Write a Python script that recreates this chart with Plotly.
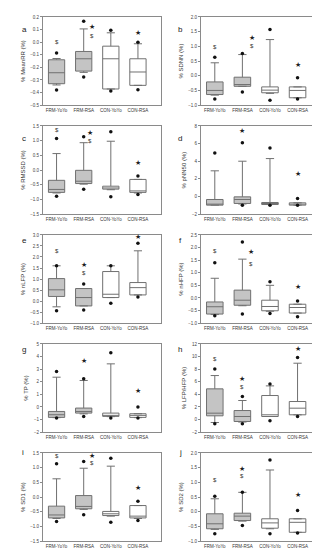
import plotly.graph_objects as go

categories = ["FRM-YoYo", "FRM-RSA", "CON-YoYo", "CON-RSA"]
panel_letters = ["a", "b", "c", "d", "e", "f", "g", "h", "i", "j"]
y_titles = ["% MeanRR (%)", "% SDNN (%)", "% RMSSD (%)", "% pNN50 (%)", "% nLFP (%)",
            "% nHFP (%)", "% TP (%)", "% LFP/HFP (%)", "% SD1 (%)", "% SD2 (%)"]
y_min = [-0.5, -1.0, -1.5, -2, -1.0, -1.0, -2, -2, -1.5, -1.0]
y_max = [0.2, 2.0, 1.5, 8, 3.0, 2.5, 5, 12, 1.5, 2.0]
y_step = [0.1, 0.5, 0.5, 2, 0.5, 0.5, 1, 2, 0.5, 0.5]

# a MeanRR
meanrr_lower = [-0.34, -0.24, -0.372, -0.343]
meanrr_q1 = [-0.33, -0.23, -0.372, -0.343]
meanrr_median = [-0.243, -0.132, -0.132, -0.237]
meanrr_q3 = [-0.14, -0.074, -0.032, -0.132]
meanrr_upper = [-0.13, 0.105, 0.074, -0.013]
meanrr_p5 = [-0.38, -0.277, -0.388, -0.377]
meanrr_p95 = [-0.087, 0.166, 0.095, 0.0]
meanrr_dollar = [0.0, 0.05, None, None]
meanrr_star = [None, 0.12, None, 0.07]

# b SDNN
sdnn_lower = [-0.66, -0.36, -0.60, -0.75]
sdnn_q1 = [-0.64, -0.36, -0.58, -0.75]
sdnn_median = [-0.50, -0.30, -0.49, -0.50]
sdnn_q3 = [-0.21, -0.05, -0.38, -0.38]
sdnn_upper = [0.44, 0.72, 1.23, -0.38]
sdnn_p5 = [-0.79, -0.55, -0.83, -0.79]
sdnn_p95 = [0.63, 0.76, 1.57, -0.07]
sdnn_dollar = [0.98, 1.0, None, None]
sdnn_star = [None, 1.29, None, 0.38]

# c RMSSD
rmssd_lower = [-0.78, -0.48, -0.67, -0.78]
rmssd_q1 = [-0.76, -0.46, -0.65, -0.76]
rmssd_median = [-0.66, -0.38, -0.61, -0.71]
rmssd_q3 = [-0.35, -0.01, -0.55, -0.32]
rmssd_upper = [0.56, 0.93, 0.98, -0.32]
rmssd_p5 = [-0.89, -0.65, -0.91, -0.83]
rmssd_p95 = [1.07, 1.13, 1.30, -0.20]
rmssd_dollar = [1.35, 1.0, None, None]
rmssd_star = [None, 1.26, None, 0.24]

# d pNN50
pnn50_lower = [-0.98, -0.85, -0.91, -0.98]
pnn50_q1 = [-0.98, -0.79, -0.91, -0.98]
pnn50_median = [-0.87, -0.34, -0.79, -0.91]
pnn50_q3 = [-0.34, -0.04, -0.68, -0.72]
pnn50_upper = [2.91, 4.0, 4.3, -0.72]
pnn50_p5 = [None, -0.98, -0.98, -0.98]
pnn50_p95 = [4.94, 6.08, 5.5, -0.23]
pnn50_dollar = [None, None, None, None]
pnn50_star = [None, 7.4, None, 2.6]

# e nLFP
nlfp_lower = [-0.26, -0.22, 0.16, 0.28]
nlfp_q1 = [0.21, -0.22, 0.16, 0.28]
nlfp_median = [0.51, 0.16, 0.31, 0.61]
nlfp_q3 = [1.02, 0.57, 1.34, 0.84]
nlfp_upper = [1.6, 0.57, 1.6, 2.28]
nlfp_p5 = [-0.44, -0.41, -0.1, 0.19]
nlfp_p95 = [1.6, 0.77, 1.6, 2.62]
nlfp_dollar = [2.28, 1.29, None, None]
nlfp_star = [None, 1.64, None, 2.9]

# f nHFP
nhfp_lower = [-0.66, -0.31, -0.53, -0.60]
nhfp_q1 = [-0.64, -0.29, -0.51, -0.60]
nhfp_median = [-0.35, -0.09, -0.34, -0.38]
nhfp_q3 = [-0.16, 0.31, -0.09, -0.25]
nhfp_upper = [0.78, 1.54, 0.5, -0.25]
nhfp_p5 = [-0.71, -0.64, -0.62, -0.75]
nhfp_p95 = [1.40, 2.22, 0.64, -0.12]
nhfp_dollar = [1.87, 1.34, None, None]
nhfp_star = [None, 1.83, None, 0.45]

# g TP
tp_lower = [-0.85, -0.55, -0.77, -0.85]
tp_q1 = [-0.83, -0.49, -0.75, -0.83]
tp_median = [-0.62, -0.36, -0.67, -0.67]
tp_q3 = [-0.36, -0.09, -0.49, -0.54]
tp_upper = [2.36, 2.1, 3.42, -0.54]
tp_p5 = [-0.88, -0.75, -0.88, -0.88]
tp_p95 = [2.81, 2.23, 4.31, -0.01]
tp_dollar = [None, None, None, None]
tp_star = [None, 3.65, None, 1.28]

# h LFP/HFP
lfhf_lower = [-0.47, -0.40, 0.48, 0.75]
lfhf_q1 = [0.59, -0.31, 0.48, 0.75]
lfhf_median = [1.01, 0.48, 0.75, 1.8]
lfhf_q3 = [4.87, 1.43, 3.81, 2.86]
lfhf_upper = [6.98, 3.02, 5.34, 8.94]
lfhf_p5 = [-0.68, -0.68, -0.2, 0.48]
lfhf_p95 = [8.04, 3.65, 5.66, 9.83]
lfhf_dollar = [9.57, 5.24, None, None]
lfhf_star = [None, 6.45, None, 11.15]

# i SD1
sd1_lower = [-0.73, -0.42, -0.65, -0.73]
sd1_q1 = [-0.71, -0.40, -0.63, -0.71]
sd1_median = [-0.61, -0.32, -0.57, -0.65]
sd1_q3 = [-0.31, 0.05, -0.49, -0.29]
sd1_upper = [0.62, 0.98, 1.05, -0.29]
sd1_p5 = [-0.83, -0.60, -0.86, -0.80]
sd1_p95 = [1.13, 1.21, 1.32, -0.14]
sd1_dollar = [1.39, 1.16, None, None]
sd1_star = [None, 1.39, None, 0.31]

# j SD2
sd2_lower = [-0.60, -0.32, -0.58, -0.70]
sd2_q1 = [-0.58, -0.30, -0.56, -0.70]
sd2_median = [-0.41, -0.15, -0.38, -0.36]
sd2_q3 = [-0.07, -0.05, -0.24, -0.24]
sd2_upper = [0.44, 0.66, 1.42, -0.24]
sd2_p5 = [-0.75, -0.47, -0.75, -0.72]
sd2_p95 = [0.53, 0.66, 1.76, 0.04]
sd2_dollar = [1.09, 1.21, None, None]
sd2_star = [None, 1.46, None, 0.57]

panels = [
    (meanrr_lower, meanrr_q1, meanrr_median, meanrr_q3, meanrr_upper, meanrr_p5, meanrr_p95, meanrr_dollar, meanrr_star),
    (sdnn_lower, sdnn_q1, sdnn_median, sdnn_q3, sdnn_upper, sdnn_p5, sdnn_p95, sdnn_dollar, sdnn_star),
    (rmssd_lower, rmssd_q1, rmssd_median, rmssd_q3, rmssd_upper, rmssd_p5, rmssd_p95, rmssd_dollar, rmssd_star),
    (pnn50_lower, pnn50_q1, pnn50_median, pnn50_q3, pnn50_upper, pnn50_p5, pnn50_p95, pnn50_dollar, pnn50_star),
    (nlfp_lower, nlfp_q1, nlfp_median, nlfp_q3, nlfp_upper, nlfp_p5, nlfp_p95, nlfp_dollar, nlfp_star),
    (nhfp_lower, nhfp_q1, nhfp_median, nhfp_q3, nhfp_upper, nhfp_p5, nhfp_p95, nhfp_dollar, nhfp_star),
    (tp_lower, tp_q1, tp_median, tp_q3, tp_upper, tp_p5, tp_p95, tp_dollar, tp_star),
    (lfhf_lower, lfhf_q1, lfhf_median, lfhf_q3, lfhf_upper, lfhf_p5, lfhf_p95, lfhf_dollar, lfhf_star),
    (sd1_lower, sd1_q1, sd1_median, sd1_q3, sd1_upper, sd1_p5, sd1_p95, sd1_dollar, sd1_star),
    (sd2_lower, sd2_q1, sd2_median, sd2_q3, sd2_upper, sd2_p5, sd2_p95, sd2_dollar, sd2_star),
]

# layout / style (not data)
W, H = 320, 550
fills = ["#c4c4c4", "#c4c4c4", "#ffffff", "#ffffff"]
symbol_shift = [0.3, 0.35, 0.25, 0.0, 0.0, 0.3, 0.0, 0.0, 0.3, 0.0]
FONT = "Liberation Sans, Arial, sans-serif"

fig = go.Figure()
layout_axes = {}
annotations = []
for p, data in enumerate(panels):
    lower, q1, med, q3, upper, p5, p95, dollar, star = data
    row, col = p // 2, p % 2
    n = p + 1
    xa = "x" if n == 1 else f"x{n}"
    ya = "y" if n == 1 else f"y{n}"
    for i, cat in enumerate(categories):
        fig.add_trace(go.Box(
            x=[i], q1=[q1[i]], median=[med[i]], q3=[q3[i]],
            lowerfence=[lower[i]], upperfence=[upper[i]],
            width=0.6, whiskerwidth=0.5, boxpoints=False,
            fillcolor=fills[i], line=dict(color="#707070", width=1),
            xaxis=xa, yaxis=ya, showlegend=False, hoverinfo="skip"))
    px, py = [], []
    for i in range(4):
        for v in (p5[i], p95[i]):
            if v is not None:
                px.append(i)
                py.append(v)
    fig.add_trace(go.Scatter(x=px, y=py, mode="markers",
                             marker=dict(color="#111111", size=3.5),
                             xaxis=xa, yaxis=ya, showlegend=False, hoverinfo="skip"))
    for i in range(4):
        sh = symbol_shift[p] if i == 1 else 0.0
        if dollar[i] is not None:
            annotations.append(dict(x=i + sh, y=dollar[i], xref=xa, yref=ya, text="$",
                                    showarrow=False, font=dict(size=6, color="#333333", family=FONT)))
        if star[i] is not None:
            annotations.append(dict(x=i + sh, y=star[i], xref=xa, yref=ya, text="\u2605",
                                    showarrow=False, font=dict(size=7, color="#222222", family="DejaVu Sans")))
    x0 = (35 + 158 * col) / W
    x1 = (153 + 160 * col) / W
    top = 7 + 110 * row
    bot = 96 + 110 * row
    axkey = "xaxis" if n == 1 else f"xaxis{n}"
    aykey = "yaxis" if n == 1 else f"yaxis{n}"
    layout_axes[axkey] = dict(
        domain=[x0, x1], anchor=ya, range=[-0.5, 3.85],
        tickvals=[0, 1, 2, 3], ticktext=categories,
        tickfont=dict(size=4.5, color="#333333", family=FONT),
        showline=True, mirror=True, linecolor="#8a8a8a", linewidth=1,
        ticks="", showgrid=False, zeroline=False, fixedrange=True)
    layout_axes[aykey] = dict(
        domain=[1 - bot / H, 1 - top / H], anchor=xa,
        range=[y_min[p], y_max[p]], dtick=y_step[p], tick0=y_min[p],
        tickformat=".1f" if y_step[p] < 1 else "d",
        tickfont=dict(size=4.5, color="#444444", family=FONT),
        showline=True, mirror=True, linecolor="#8a8a8a", linewidth=1,
        ticks="outside", ticklen=2, tickcolor="#8a8a8a",
        showgrid=False, zeroline=False, fixedrange=True,
        title=dict(text=y_titles[p], font=dict(size=6, color="#333333", family=FONT), standoff=4))
    annotations.append(dict(x=(12 + 160 * col) / W, y=1 - (13 + 110 * row) / H,
                            xref="paper", yref="paper", text=panel_letters[p],
                            showarrow=False, font=dict(size=8, color="#222222", family=FONT)))

fig.update_layout(
    width=W, height=H, margin=dict(l=0, r=0, t=0, b=0),
    paper_bgcolor="white", plot_bgcolor="white",
    annotations=annotations, **layout_axes)

fig.write_html("out.html")
